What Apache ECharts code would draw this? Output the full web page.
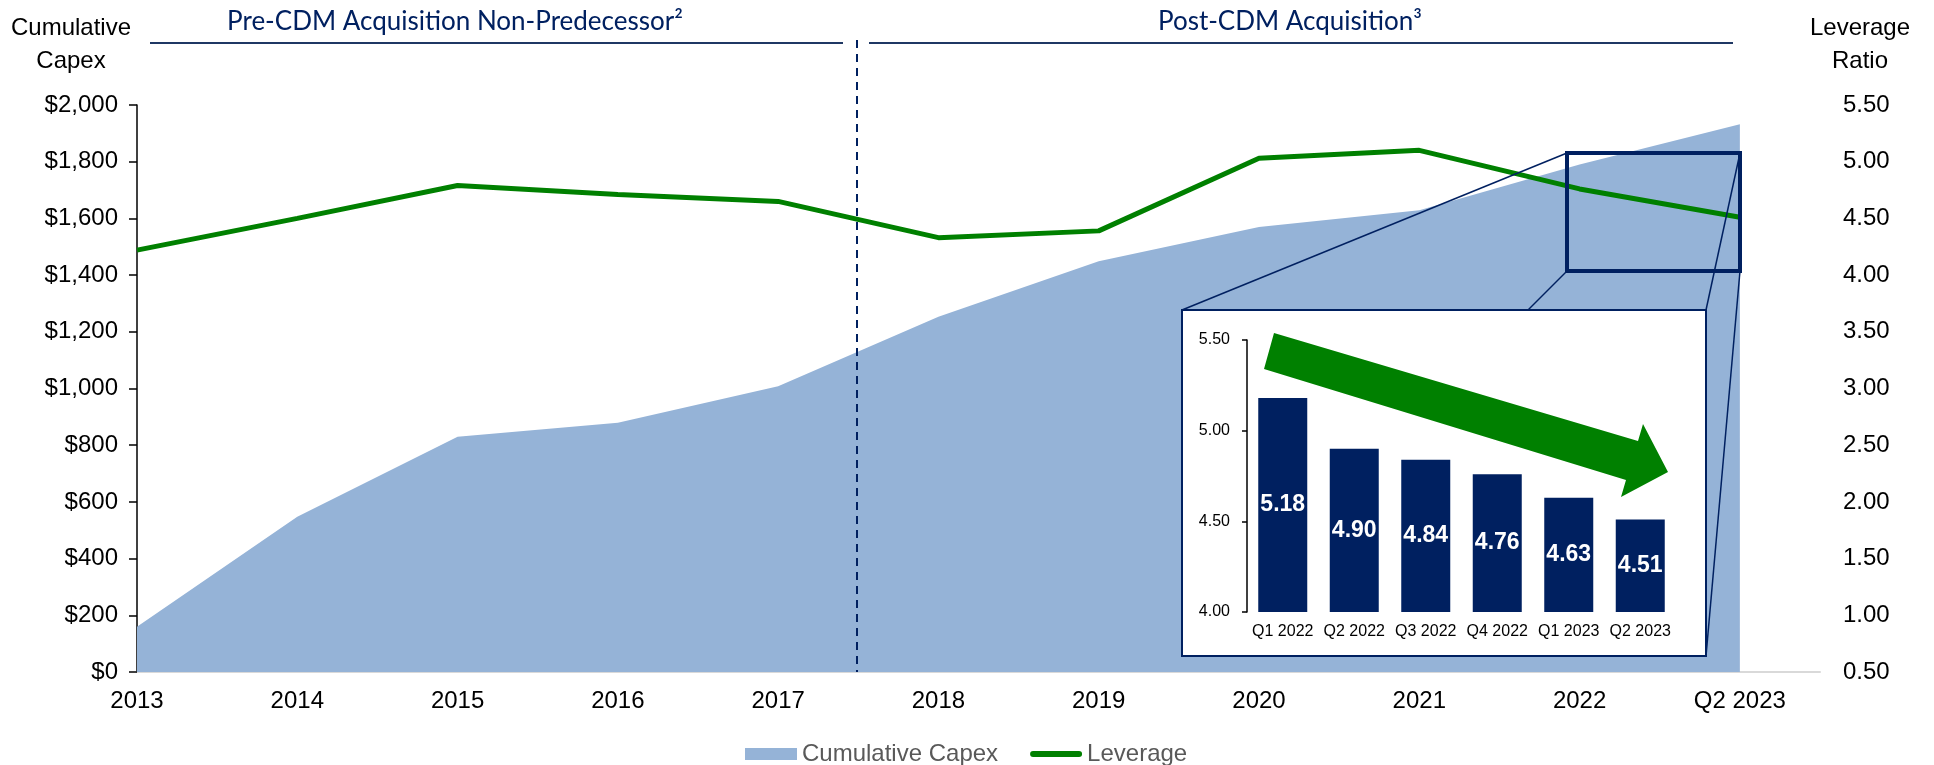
<!DOCTYPE html>
<html>
<head>
<meta charset="utf-8">
<title>Cumulative Capex and Leverage</title>
<script src="https://cdn.jsdelivr.net/npm/echarts@6.0.0/dist/echarts.min.js"></script>
<style>
  html, body { margin: 0; padding: 0; background: #fff; }
  #chart { width: 1934px; height: 765px; }
</style>
</head>
<body>
<div id="chart"></div>
<script>
// main chart, one point per year (last one is Q2 2023)
var years = ['2013', '2014', '2015', '2016', '2017', '2018', '2019', '2020', '2021', '2022', 'Q2 2023']
var capex = [160, 548, 830, 879, 1008, 1253, 1449, 1570, 1629, 1790, 1932]
var leverage = [4.22, 4.50, 4.79, 4.71, 4.65, 4.33, 4.39, 5.03, 5.10, 4.76, 4.51]

// zoomed inset, quarterly leverage
var quarters = ['Q1 2022', 'Q2 2022', 'Q3 2022', 'Q4 2022', 'Q1 2023', 'Q2 2023']
var quarterLeverage = [5.18, 4.90, 4.84, 4.76, 4.63, 4.51]

// axis ranges
var capexAxis = { min: 0, max: 2000, step: 200 }
var ratioAxis = { min: 0.5, max: 5.5, step: 0.5 }
var insetAxis = { min: 4, max: 5.5, step: 0.5 }

var headers = ['Pre-CDM Acquisition Non-Predecessor\u00b2', 'Post-CDM Acquisition\u00b3']

var NAVY = '#002060'
var FONT = 'Liberation Sans, Arial, sans-serif'

var chart = echarts.init(document.getElementById('chart'))

function money(v) {
  return '$' + v.toString().replace(/\B(?=(\d{3})+(?!\d))/g, ',')
}

chart.setOption({
  animation: false,
  textStyle: { fontFamily: FONT },
  grid: [
    { left: 137, right: 114, top: 105, bottom: 93 },
    { left: 1247, top: 340, width: 429, height: 272 }
  ],
  legend: {
    left: 740,
    top: 737,
    itemWidth: 52,
    itemHeight: 12,
    itemGap: 32,
    textStyle: { fontSize: 24, color: '#595959' },
    data: [
      { name: 'Cumulative Capex', icon: 'rect' },
      { name: 'Leverage', icon: 'path://M3,0L49,0A3,3 0 0 1 49,6L3,6A3,3 0 0 1 3,0Z' }
    ]
  },
  xAxis: [
    {
      type: 'value',
      gridIndex: 0,
      min: 0,
      max: 10.5,
      interval: 1,
      axisLine: { lineStyle: { color: '#D9D9D9', width: 2 } },
      axisTick: { show: false },
      splitLine: { show: false },
      axisLabel: {
        fontSize: 24,
        color: '#000',
        margin: 17,
        formatter: function (v) { return years[v] || '' }
      }
    },
    {
      type: 'category',
      gridIndex: 1,
      data: quarters,
      z: 20,
      axisLine: { show: false },
      axisTick: { show: false },
      axisLabel: { interval: 0, fontSize: 16, color: '#000', margin: 12 }
    }
  ],
  yAxis: [
    {
      type: 'value',
      gridIndex: 0,
      min: capexAxis.min,
      max: capexAxis.max,
      interval: capexAxis.step,
      axisLine: { show: true, lineStyle: { color: '#000', width: 1.5 } },
      axisTick: { show: true, length: 8, lineStyle: { color: '#000', width: 1.5 } },
      splitLine: { show: false },
      axisLabel: { fontSize: 24, color: '#000', margin: 19, formatter: money }
    },
    {
      type: 'value',
      gridIndex: 0,
      position: 'right',
      min: ratioAxis.min,
      max: ratioAxis.max,
      interval: ratioAxis.step,
      axisLine: { show: false },
      axisTick: { show: false },
      splitLine: { show: false },
      axisLabel: { fontSize: 24, color: '#000', margin: 23, formatter: function (v) { return v.toFixed(2) } }
    },
    {
      type: 'value',
      gridIndex: 1,
      min: insetAxis.min,
      max: insetAxis.max,
      interval: insetAxis.step,
      z: 20,
      axisLine: { show: true, lineStyle: { color: '#000', width: 1.5 } },
      axisTick: { show: true, length: 5, lineStyle: { color: '#000', width: 1.5 } },
      splitLine: { show: false },
      axisLabel: { fontSize: 16, color: '#000', margin: 17, formatter: function (v) { return v.toFixed(2) } }
    }
  ],
  series: [
    {
      name: 'Cumulative Capex',
      type: 'line',
      xAxisIndex: 0,
      yAxisIndex: 0,
      data: capex.map(function (v, i) { return [i, v] }),
      symbol: 'none',
      lineStyle: { width: 0 },
      itemStyle: { color: '#95B3D7' },
      areaStyle: { color: '#95B3D7', opacity: 1 },
      z: 2
    },
    {
      name: 'Leverage',
      type: 'line',
      xAxisIndex: 0,
      yAxisIndex: 1,
      data: leverage.map(function (v, i) { return [i, v] }),
      symbol: 'none',
      lineStyle: { color: '#008000', width: 5 },
      itemStyle: { color: '#008000' },
      z: 3
    },
    {
      name: 'Quarterly Leverage',
      type: 'bar',
      xAxisIndex: 1,
      yAxisIndex: 2,
      data: quarterLeverage,
      barWidth: 49,
      itemStyle: { color: NAVY },
      label: {
        show: true,
        position: 'inside',
        color: '#fff',
        fontWeight: 'bold',
        fontSize: 23,
        formatter: function (p) { return p.value.toFixed(2) }
      },
      z: 20
    }
  ],
  graphic: [
    // header captions and rules
    { type: 'text', z: 5, style: { text: headers[0], x: 455, y: 22, fontSize: 26, fontFamily: 'Lato', fill: NAVY, align: 'center', verticalAlign: 'middle' } },
    { type: 'text', z: 5, style: { text: headers[1], x: 1290, y: 22, fontSize: 26, fontFamily: 'Lato', fill: NAVY, align: 'center', verticalAlign: 'middle' } },
    { type: 'line', z: 5, shape: { x1: 150, y1: 43, x2: 843, y2: 43 }, style: { stroke: '#1F3864', lineWidth: 2 } },
    { type: 'line', z: 5, shape: { x1: 869, y1: 43, x2: 1733, y2: 43 }, style: { stroke: '#1F3864', lineWidth: 2 } },
    { type: 'line', z: 5, shape: { x1: 857, y1: 40, x2: 857, y2: 672 }, style: { stroke: NAVY, lineWidth: 2, lineDash: [8, 6] } },
    // axis titles
    { type: 'text', z: 5, style: { text: 'Cumulative\nCapex', x: 71, y: 45, fontSize: 24, lineHeight: 33, fontFamily: FONT, fill: '#000', align: 'center', verticalAlign: 'middle' } },
    { type: 'text', z: 5, style: { text: 'Leverage\nRatio', x: 1860, y: 45, fontSize: 24, lineHeight: 33, fontFamily: FONT, fill: '#000', align: 'center', verticalAlign: 'middle' } },
    // zoom callout
    { type: 'line', z: 9, shape: { x1: 1182, y1: 310, x2: 1567, y2: 153 }, style: { stroke: NAVY, lineWidth: 1.5 } },
    { type: 'line', z: 9, shape: { x1: 1182, y1: 656, x2: 1567, y2: 271 }, style: { stroke: NAVY, lineWidth: 1.5 } },
    { type: 'line', z: 9, shape: { x1: 1706, y1: 310, x2: 1740, y2: 153 }, style: { stroke: NAVY, lineWidth: 1.5 } },
    { type: 'line', z: 9, shape: { x1: 1706, y1: 656, x2: 1740, y2: 271 }, style: { stroke: NAVY, lineWidth: 1.5 } },
    { type: 'rect', z: 9, shape: { x: 1567, y: 153, width: 173, height: 118 }, style: { fill: 'none', stroke: NAVY, lineWidth: 4 } },
    { type: 'rect', z: 10, shape: { x: 1182, y: 310, width: 524, height: 346 }, style: { fill: '#fff', stroke: NAVY, lineWidth: 2 } },
    // trend arrow in the inset
    {
      type: 'polygon',
      z: 30,
      shape: { points: [[1274, 333], [1638, 441], [1643, 424], [1668, 472], [1621, 497], [1626, 480], [1264, 369]] },
      style: { fill: '#008000' }
    }
  ]
})
</script>
</body>
</html>
